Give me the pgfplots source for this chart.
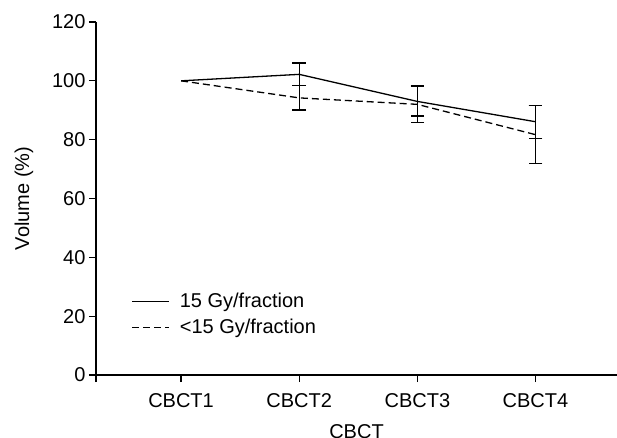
\documentclass[border=0pt]{standalone}
\usepackage{pgfplots}
\pgfplotsset{compat=1.18}
\usepackage{fontspec}
\setmainfont{Liberation Sans}
\begin{document}
\begin{tikzpicture}
\begin{axis}[
  name=ax,
  scale only axis,
  width=521pt, height=353pt,
  xmin=0.28, xmax=4.69,
  ymin=0, ymax=120,
  axis x line=bottom, axis y line=left,
  axis line style={line width=1.2pt, -},
  tick style={line width=1.2pt, black},
  tick align=outside,
  major tick length=7pt,
  xtick={0.28,1,2,3,4},
  xticklabels={,CBCT1,CBCT2,CBCT3,CBCT4},
  ytick={0,20,40,60,80,100,120},
  /pgf/number format/assume math mode=true,
  font=\fontsize{20}{24}\selectfont,
  ticklabel style={font=\fontsize{20}{24}\selectfont},
  xticklabel style={yshift=-8pt},
  xlabel={CBCT}, ylabel={Volume (\%)},
  xlabel style={at={(axis description cs:0.5,0)}, anchor=north, yshift=-46pt},
  ylabel style={at={(axis description cs:0,0.5)}, anchor=center, yshift=72pt},
  legend style={at={(axis description cs:0.068,0.238)}, anchor=north west, draw=none, fill=none,
    font=\fontsize{20}{24}\selectfont, row sep=6pt, inner sep=0pt,
    nodes={inner xsep=10pt}},
  legend cell align=left,
  legend image code/.code={\draw[#1, line width=1.2pt] (0pt,0pt) -- (37pt,0pt);},
]
\addplot[black, line width=1.3pt] coordinates {(1,100) (2,102.2) (3,93.0) (4,86.1)};
\addlegendentry{15 Gy/fraction}
\addplot[black, line width=1.3pt, dash pattern=on 7pt off 4pt] coordinates {(1,100) (2,94.2) (3,92.0) (4,81.7)};
\addlegendentry{<15 Gy/fraction}
\addplot[draw=none, forget plot, error bars/.cd, y dir=both, y explicit,
  error bar style={black, solid, line width=1.3pt},
  error mark options={black, rotate=90, mark size=6.8pt, line width=1.3pt}]
  coordinates {(2,102.2) +- (0,3.9) (3,93.0) +- (0,5.0) (4,86.1) +- (0,5.6)};
\addplot[draw=none, forget plot, error bars/.cd, y dir=both, y explicit,
  error bar style={black, solid, line width=1.3pt},
  error mark options={black, rotate=90, mark size=6.8pt, line width=1.3pt}]
  coordinates {(2,94.2) +- (0,4.1) (3,92.0) +- (0,6.2) (4,81.7) +- (0,9.9)};
\end{axis}
\pgfresetboundingbox
\path[use as bounding box] ([shift={(-96pt,-63pt)}]ax.south west) rectangle ([shift={(521pt,375pt)}]ax.south west) ;
\end{tikzpicture}
\end{document}
